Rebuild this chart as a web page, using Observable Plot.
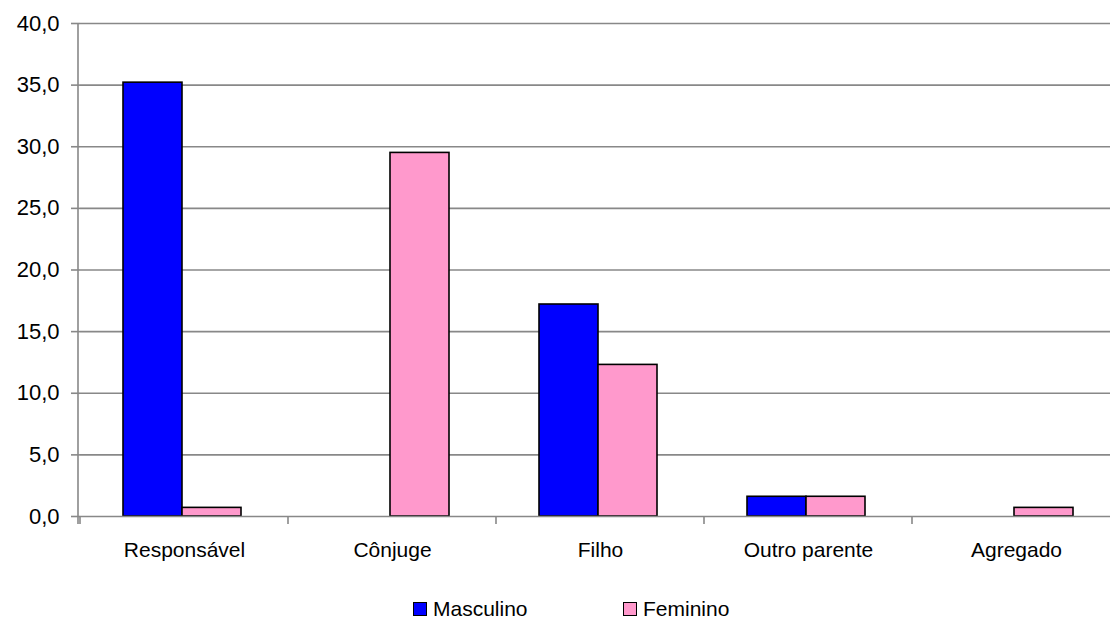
<!DOCTYPE html>
<html>
<head>
<meta charset="utf-8">
<script src="https://cdn.jsdelivr.net/npm/d3@7"></script>
<script src="https://cdn.jsdelivr.net/npm/@observablehq/plot@0.6"></script>
<style>
  html, body { margin: 0; padding: 0; overflow: hidden; background: #fff; width: 1110px; height: 620px; }
  #chart { position: absolute; left: 0; top: 0; }
  #chart svg { max-width: none !important; display: block; }
  .legend { position: absolute; top: 598px; left: 0; width: 1110px; height: 21px; overflow: visible; font-family: "Liberation Sans", Arial, sans-serif; font-size: 21px; line-height: 21px; color: #000; }
  .legend .item { position: absolute; top: 0; white-space: nowrap; }
  .legend .sw { position: absolute; top: 4px; width: 14px; height: 14px; box-sizing: border-box; border: 1.5px solid #000; }
  .legend .lb { position: absolute; top: 0; left: 20px; }
</style>
</head>
<body>
<div id="chart"></div>
<div class="legend" id="legend"></div>
<script>
const categories = ["Responsável", "Cônjuge", "Filho", "Outro parente", "Agregado"];
const series = ["Masculino", "Feminino"];
const masculino = [35.2, 0, 17.2, 1.6, 0];
const feminino = [0.7, 29.5, 12.3, 1.6, 0.7];
const yTicks = [0, 5, 10, 15, 20, 25, 30, 35, 40];
const colors = ["#0000ff", "#ff99cc"];
const legendLeft = [413, 623];

const values = {Masculino: masculino, Feminino: feminino};
const data = categories.flatMap((c, i) => series.map(s => ({categoria: c, sexo: s, valor: values[s][i]})))
  .filter(d => d.valor > 0);

const fmt = d => d.toFixed(1).replace(".", ",");

const chart = Plot.plot({
  width: 1122,
  height: 590,
  marginLeft: 78,
  marginRight: 0,
  marginTop: 23,
  marginBottom: 74,
  style: {fontFamily: "'Liberation Sans', Arial, sans-serif", fontSize: "21px", color: "#000", background: "#fff", overflow: "visible"},
  fx: {domain: categories, padding: 0, label: null, axis: null},
  x: {domain: series, paddingInner: 0, paddingOuter: 0.74, axis: null},
  y: {domain: [0, 40], ticks: yTicks, label: null},
  color: {domain: series, range: colors},
  marks: [
    Plot.ruleY(yTicks.filter(t => t > 0), {stroke: "#888", strokeWidth: 1.6}),
    Plot.barY(data, {fx: "categoria", x: "sexo", y: "valor", fill: "sexo", stroke: "#000", strokeWidth: 1.6, dx: -2}),
    Plot.ruleY([0], {stroke: "#888", strokeWidth: 1.6}),
    Plot.axisY({ticks: yTicks, tickFormat: fmt, tickSize: 9, tickPadding: 12, stroke: "#888", strokeWidth: 1.6, fontSize: 22, fill: "#000", label: null}),
    Plot.axisFx({anchor: "bottom", tickSize: 0, tickPadding: 26, fontSize: 21, fill: "#000", label: null})
  ]
});

document.getElementById("chart").appendChild(chart);

// axis line and category boundary ticks, from the plot's own scales
const fx = chart.scale("fx");
const y = chart.scale("y");
const svg = d3.select(chart);
const y0 = y.apply(0), yTop = y.apply(40);
const xLeft = fx.range[0], xRight = fx.range[1];
const g = svg.append("g").attr("stroke", "#888").attr("stroke-width", 1.6);
g.append("line").attr("x1", xLeft).attr("x2", xLeft).attr("y1", yTop).attr("y2", y0 + 8);
const bounds = categories.map(c => fx.apply(c)).concat([xRight]);
bounds.forEach(bx => g.append("line").attr("x1", bx).attr("x2", bx).attr("y1", y0).attr("y2", y0 + 8));

// legend
const legend = document.getElementById("legend");
series.forEach((s, i) => {
  const item = document.createElement("div");
  item.className = "item";
  item.style.left = legendLeft[i] + "px";
  const sw = document.createElement("span");
  sw.className = "sw";
  sw.style.background = colors[i];
  const lb = document.createElement("span");
  lb.className = "lb";
  lb.textContent = s;
  item.appendChild(sw);
  item.appendChild(lb);
  legend.appendChild(item);
});
</script>
</body>
</html>
